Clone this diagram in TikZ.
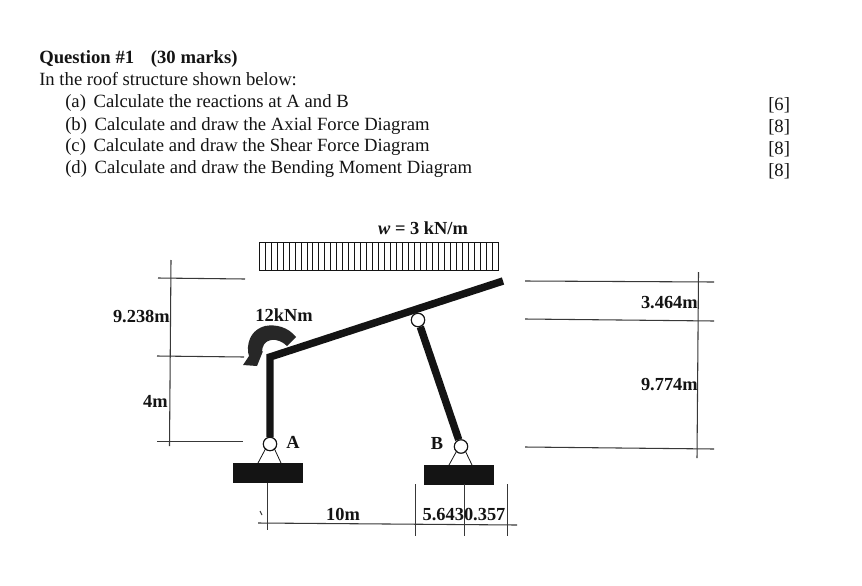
\documentclass[tikz,border=0pt]{standalone}
\usepackage{fontspec}
\setmainfont{Liberation Serif}
\usetikzlibrary{calc}
\definecolor{ink}{gray}{0.08}
\tikzset{
  x=0.75pt,y=-0.75pt,
  txt/.style={inner sep=0pt,anchor=base west,text=ink,font=\fontsize{14}{16}\selectfont},
  titletxt/.style={inner sep=0pt,anchor=base west,text=ink,font=\fontsize{14}{16}\selectfont\bfseries},
  boldtxt/.style={inner sep=0pt,text=ink,font=\fontsize{13.8}{16}\selectfont\bfseries},
  member/.style={line width=5.6pt,draw=ink,line cap=butt,line join=miter},
  dimline/.style={draw=ink!85,line width=0.8pt},
  pinnode/.style={circle,draw=ink,fill=white,line width=0.8pt,minimum size=10pt,inner sep=0pt},
  basebox/.style={draw=none,fill=ink,inner sep=0pt,minimum width=52.5pt,minimum height=15pt},
  leg/.style={draw=ink,line width=0.6pt}
}
\newcommand{\gapl}{\hspace{2.25pt}}
\begin{document}
\begin{tikzpicture}
\useasboundingbox (0,0) rectangle (862,585);
\fill[white] (0,0) rectangle (862,585);
% question text
\node[titletxt] (q) at (39,64) {Question \#1\hspace{0.9em}(30 marks)};
\node[txt] (intro) at (39,85) {In the roof structure shown below:};
\node[txt] (pa) at (65,107) {(a)\gapl{} Calculate the reactions at A and B};
\node[txt] (pb) at (65,130) {(b)\gapl{} Calculate and draw the Axial Force Diagram};
\node[txt] (pc) at (65,151) {(c)\gapl{} Calculate and draw the Shear Force Diagram};
\node[txt] (pd) at (65,173) {(d)\gapl{} Calculate and draw the Bending Moment Diagram};
\node[txt] (ma) at (768,110) {[6]};
\node[txt] (mb) at (768,132) {[8]};
\node[txt] (mc) at (768,154) {[8]};
\node[txt] (md) at (768,176) {[8]};
% load
\node[boldtxt] (wl) at (423,228) {\textit{w} = 3 kN/m};
\draw[ink,line width=0.7pt] (259,242) rectangle (498,270);
\foreach \i in {0,...,39} {\draw[ink,line width=0.45pt] ({259+\i*5.975},242) -- ({259+\i*5.975},270);}
% structure
\coordinate (corner) at (270,357);
\coordinate (tip) at (503,281);
\node[pinnode] (A) at (270,444) {};
\node[pinnode] (H) at (418,320) {};
\node[pinnode] (B) at (461,446.5) {};
\node[basebox] (baseA) at (268,473) {};
\node[basebox] (baseB) at (459,475) {};
\draw[member] (A) -- (corner) -- (tip);
\draw[member] (H) -- (B);
\node[pinnode] at (418,320) {};
\node[pinnode] at (270,444) {};
\node[pinnode] at (461,446.5) {};
\draw[leg] (A.south west) ++(1,-1) -- (258,463);
\draw[leg] (A.south east) ++(-1,-1) -- (281,463);
\draw[leg] (B.south west) ++(1,-1) -- (449,465);
\draw[leg] (B.south east) ++(-1,-1) -- (472,465);
\node[boldtxt] (la) at (293,442) {A};
\node[boldtxt] (lb) at (437,443) {B};
% moment
\fill[ink!92] (296,337) .. controls (288,327) and (276,324) .. (265,326)
  .. controls (254,329) and (247,338) .. (248,352)
  -- (249,356) -- (243,365) -- (257,366) -- (263,351) -- (262,352)
  .. controls (262,346) and (265,341) .. (271,340)
  .. controls (277,339) and (283,342) .. (287,346) -- cycle;
\node[boldtxt] (m12) at (284,315) {12kNm};
% left dimensions
\coordinate (LT) at (171,260); \coordinate (LB) at (169.5,446);
\coordinate (L1a) at (158,278); \coordinate (L1b) at (245,279);
\coordinate (L2a) at (157,356); \coordinate (L2b) at (244,357);
\coordinate (L3a) at (157,441.3); \coordinate (L3b) at (243,441.3);
\draw[dimline] (LT) -- (LB);
\draw[dimline] (L1a) -- (L1b);
\draw[dimline] (L2a) -- (L2b);
\draw[dimline] (L3a) -- (L3b);
\node[boldtxt,anchor=east] (d1) at (170,317) {9.238m};
\node[boldtxt,anchor=east] (d2) at (168,401) {4m};
% right dimensions
\coordinate (RT) at (698.5,272); \coordinate (RB) at (697,458);
\coordinate (R1a) at (525,281); \coordinate (R1b) at (714,282);
\coordinate (R2a) at (525,319); \coordinate (R2b) at (714,321);
\coordinate (R3a) at (525,447); \coordinate (R3b) at (714,449);
\draw[dimline] (RT) -- (RB);
\draw[dimline] (R1a) -- (R1b);
\draw[dimline] (R2a) -- (R2b);
\draw[dimline] (R3a) -- (R3b);
\node[boldtxt,anchor=east] (d3) at (698,303) {3.464m};
\node[boldtxt,anchor=east] (d4) at (698,385) {9.774m};
% bottom dimensions
\coordinate (Ba) at (258,523); \coordinate (Bb) at (517,525);
\coordinate (T1a) at (267.5,483); \coordinate (T1b) at (267.5,530);
\coordinate (T2a) at (415.5,484); \coordinate (T2b) at (415.5,536);
\coordinate (T3a) at (464.5,484); \coordinate (T3b) at (464.5,536);
\coordinate (T4a) at (507.5,484); \coordinate (T4b) at (507.5,536);
\coordinate (S1) at (260,511); \coordinate (S2) at (262,515);
\draw[dimline] (Ba) -- (Bb);
\draw[dimline] (T1a) -- (T1b);
\draw[dimline] (T2a) -- (T2b);
\draw[dimline] (T3a) -- (T3b);
\draw[dimline] (T4a) -- (T4b);
\draw[dimline] (S1) -- (S2);
\node[boldtxt] (d5) at (343,514) {10m};
\node[boldtxt,anchor=center] (d6) at (464,515) {5.6430.357};
\end{tikzpicture}
\end{document}
